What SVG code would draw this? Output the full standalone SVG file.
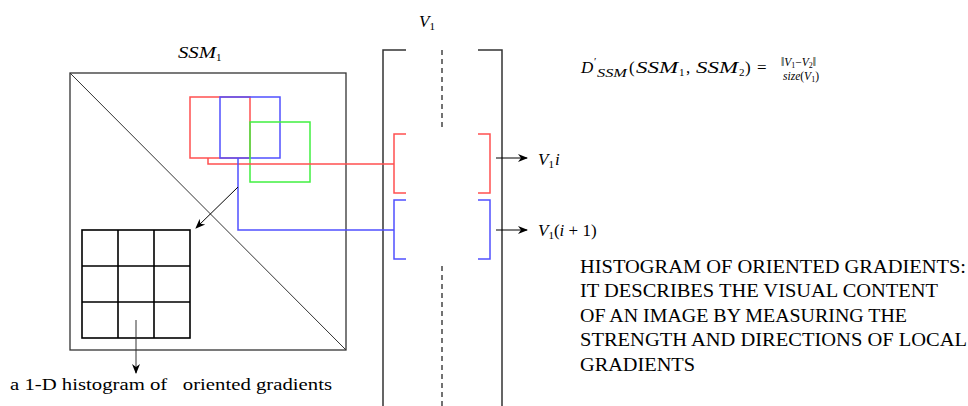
<svg xmlns="http://www.w3.org/2000/svg" width="968" height="406" viewBox="0 0 968 406">
<defs>
<marker id="ah" viewBox="0 0 10 10" refX="9" refY="5" markerWidth="10" markerHeight="10" markerUnits="userSpaceOnUse" orient="auto">
<path d="M0,1 L10,5 L0,9 L3,5 Z" fill="#000"/>
</marker>
</defs>
<g id="ssm">
<rect x="70" y="73" width="276" height="277" fill="none" stroke="#333" stroke-width="1.3"/>
<line x1="70" y1="73" x2="346" y2="350" stroke="#333" stroke-width="1"/>
<text x="178" y="58" font-family="Times New Roman, Liberation Serif, serif" font-style="italic" font-size="17"><tspan textLength="38" lengthAdjust="spacingAndGlyphs">SSM</tspan><tspan font-size="11" font-style="normal" dy="3">1</tspan></text>
</g>
<g id="grid" fill="none" stroke="#000" stroke-width="1.6">
<rect x="82" y="230" width="108" height="108"/>
<path d="M118,230V338M154,230V338M82,266H190M82,302H190"/>
</g>
<g id="windows" fill="none" stroke-width="1.5">
<rect x="190" y="97" width="60" height="61" stroke="#ff5050"/>
<rect x="220" y="97" width="60" height="61" stroke="#5050ff"/>
<rect x="250" y="122" width="60" height="60" stroke="#40f040"/>
</g>
<g id="v1">
<path d="M406,50H383V406M478,50H502V406" fill="none" stroke="#333" stroke-width="1.5"/>
<line x1="442" y1="50" x2="442" y2="131" stroke="#444" stroke-width="1.5" stroke-dasharray="5,4"/>
<line x1="442" y1="266" x2="442" y2="406" stroke="#444" stroke-width="1.5" stroke-dasharray="5,4"/>
<text x="419" y="27" font-family="Times New Roman, Liberation Serif, serif" font-style="italic" font-size="17">V<tspan font-size="11" font-style="normal" dy="3">1</tspan></text>
</g>
<g id="v1i">
<path d="M406,134H394V193H406M478,134H490V193H478" fill="none" stroke="#ff5050" stroke-width="1.5"/>
<text x="538" y="165" font-family="Times New Roman, Liberation Serif, serif" font-style="italic" font-size="17">V<tspan font-size="11" font-style="normal" dy="3">1</tspan><tspan dy="-3" dx="1">i</tspan></text>
</g>
<g id="v1i1">
<path d="M406,200H394V259H406M478,200H490V259H478" fill="none" stroke="#5050ff" stroke-width="1.5"/>
<text x="538" y="236" font-family="Times New Roman, Liberation Serif, serif" font-style="italic" font-size="17">V<tspan font-size="11" font-style="normal" dy="3">1</tspan><tspan dy="-3" font-style="normal">(</tspan>i<tspan font-style="normal"> + 1)</tspan></text>
</g>
<g id="connectors" fill="none" stroke-width="1">
<path d="M208,158V164H394" stroke="#ff5050" stroke-width="1.5"/>
<path d="M238,158V230H394" stroke="#5050ff" stroke-width="1.5"/>
<line x1="238" y1="187" x2="196" y2="228" stroke="#000" marker-end="url(#ah)"/>
<line x1="136" y1="320" x2="136" y2="373" stroke="#333" marker-end="url(#ah)"/>
<line x1="496" y1="158" x2="527" y2="158" stroke="#000" marker-end="url(#ah)"/>
<line x1="496" y1="230" x2="527" y2="230" stroke="#000" marker-end="url(#ah)"/>
</g>
<g id="formula" font-family="Times New Roman, Liberation Serif, serif" font-size="17">
<text x="581" y="73" font-style="italic">D</text>
<text x="594" y="65" font-size="11">&#x2032;</text>
<text x="597" y="77" font-size="11.5" font-style="italic" textLength="30" lengthAdjust="spacingAndGlyphs">SSM</text>
<text x="629" y="73">(</text>
<text x="636" y="73" font-style="italic" textLength="42" lengthAdjust="spacingAndGlyphs">SSM</text>
<text x="679" y="76" font-size="11">1</text>
<text x="686" y="73">,</text>
<text x="696" y="73" font-style="italic" textLength="42" lengthAdjust="spacingAndGlyphs">SSM</text>
<text x="739" y="76" font-size="11">2</text>
<text x="745" y="73">)</text>
<text x="757" y="73">=</text>
<text x="781" y="66" font-size="11.5"><tspan>&#x2016;</tspan><tspan font-style="italic">V</tspan><tspan font-size="8" dy="2">1</tspan><tspan dy="-2">&#x2212;</tspan><tspan font-style="italic">V</tspan><tspan font-size="8" dy="2">2</tspan><tspan dy="-2">&#x2016;</tspan></text>
<text x="783" y="80" font-size="11.5"><tspan font-style="italic">size</tspan>(<tspan font-style="italic">V</tspan><tspan font-size="8" dy="2">1</tspan><tspan dy="-2">)</tspan></text>
</g>
<g id="caption">
<text x="10" y="390" font-family="Times New Roman, Liberation Serif, serif" font-size="17" textLength="322" lengthAdjust="spacingAndGlyphs">a 1-D histogram of &#160; oriented gradients</text>
</g>
<g id="hog" font-family="Times New Roman, Liberation Serif, serif" font-size="18">
<text x="580" y="273" textLength="386" lengthAdjust="spacingAndGlyphs">HISTOGRAM OF ORIENTED GRADIENTS:</text>
<text x="580" y="297" textLength="358" lengthAdjust="spacingAndGlyphs">IT DESCRIBES THE VISUAL CONTENT</text>
<text x="580" y="322" textLength="327" lengthAdjust="spacingAndGlyphs">OF AN IMAGE BY MEASURING THE</text>
<text x="580" y="346" textLength="387" lengthAdjust="spacingAndGlyphs">STRENGTH AND DIRECTIONS OF LOCAL</text>
<text x="580" y="371" textLength="115" lengthAdjust="spacingAndGlyphs">GRADIENTS</text>
</g>
</svg>
